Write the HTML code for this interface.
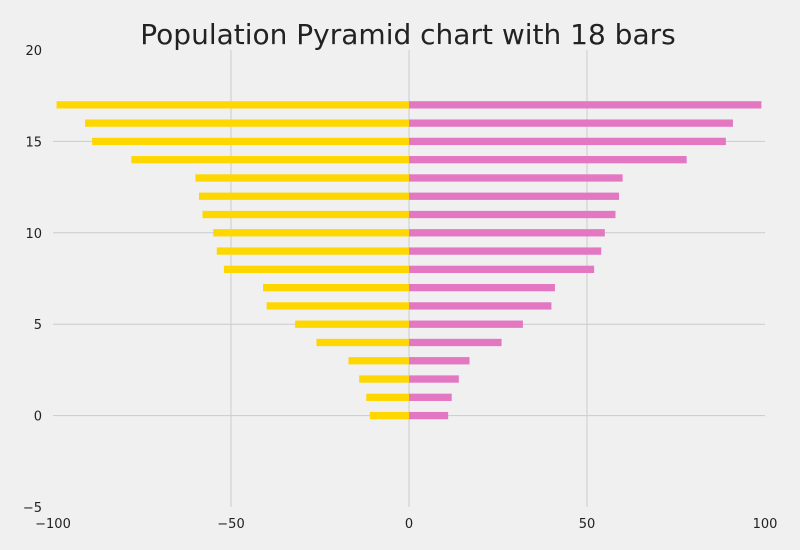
<!DOCTYPE html>
<html><head><meta charset="utf-8"><style>
html,body{margin:0;padding:0;background:#f0f0f0;}
svg{display:block;font-family:"DejaVu Sans","Liberation Sans",sans-serif;}
</style></head><body>
<svg id="chart" width="800" height="550" viewBox="0 0 800 550">
<rect x="0" y="0" width="800" height="550" fill="#f0f0f0"/>
<text x="408" y="44" text-anchor="middle" font-size="28" fill="#222">Population Pyramid chart with 18 bars</text>
<g id="grid"></g><g id="bars"></g><g id="ticks"></g>
</svg>
<script>
const categories = [0,1,2,3,4,5,6,7,8,9,10,11,12,13,14,15,16,17];
const leftValues = [-11,-12,-14,-17,-26,-32,-40,-41,-52,-54,-55,-58,-59,-60,-78,-89,-91,-99];
const rightValues = [11,12,14,17,26,32,40,41,52,54,55,58,59,60,78,89,91,99];
const xTicks = [-100,-50,0,50,100];
const yTicks = [-5,0,5,10,15,20];
const xTickLabels = ["\u2212100","\u221250","0","50","100"];
const yTickLabels = ["\u22125","0","5","10","15","20"];

const NS="http://www.w3.org/2000/svg";
const X0=53,X1=765,Y0=507,Y1=50;
function xs(v){return X0+(v+100)/200*(X1-X0);}
function ys(v){return Y0-(v+5)/25*(Y0-Y1);}
function mk(tag,attrs,parent){const e=document.createElementNS(NS,tag);for(const k in attrs)e.setAttribute(k,attrs[k]);document.getElementById(parent).appendChild(e);return e;}

xTicks.forEach((t,i)=>{
  if(t>-100&&t<100){
    const l=mk('line',{x1:xs(t),x2:xs(t),y1:Y1,y2:Y0,stroke:'#cbcbcb','stroke-width':1},'grid');
    
    
  }
  const tx=mk('text',{x:xs(t),y:528,'text-anchor':'middle','font-size':13,fill:'#222'},'ticks');
  tx.textContent=xTickLabels[i];
  
  
});
yTicks.forEach((t,i)=>{
  if(t>-5&&t<20){
    const l=mk('line',{x1:X0,x2:X1,y1:ys(t),y2:ys(t),stroke:'#cbcbcb','stroke-width':1},'grid');
    
    
  }
  const tx=mk('text',{x:42,y:ys(t)+5,'text-anchor':'end','font-size':13,fill:'#222'},'ticks');
  tx.textContent=yTickLabels[i];
  
  
});
const bh=0.4;
categories.forEach((c,i)=>{
  const yt=ys(c+bh/2), h=ys(c-bh/2)-yt;
  const a=leftValues[i], b=rightValues[i];
  const r1=mk('rect',{x:Math.min(xs(a),xs(0)),y:yt,width:Math.abs(xs(a)-xs(0)),height:h,fill:'#ffd700'},'bars');
  
  
  const r2=mk('rect',{x:Math.min(xs(b),xs(0)),y:yt,width:Math.abs(xs(b)-xs(0)),height:h,fill:'#e377c2'},'bars');
  
  
});
</script>
</body></html>
